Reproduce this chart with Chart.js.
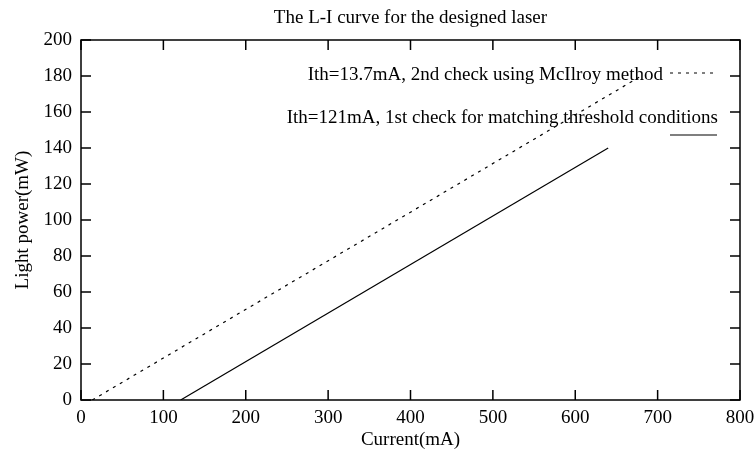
<!DOCTYPE html>
<html>
<head>
<meta charset="utf-8">
<title>L-I curve</title>
<script src="https://cdn.jsdelivr.net/npm/chart.js@4.4.1/dist/chart.umd.min.js"></script>
<style>
  html, body { margin: 0; padding: 0; background: #fff; }
  #wrap { width: 756px; height: 457px; position: relative; }
</style>
</head>
<body>
<div id="wrap"><canvas id="liChart"></canvas></div>
<script>
// L-I curve: two threshold estimates for the laser
const titleText = 'The L-I curve for the designed laser';
const xTitle = 'Current(mA)';
const yTitle = 'Light power(mW)';

const seriesLabels = [
    'Ith=13.7mA, 2nd check using McIlroy method',
    'Ith=121mA, 1st check for matching threshold conditions'
];

const mcIlroyCurrent = [13.7, 680];
const mcIlroyPower = [0, 180];

const matchCurrent = [121, 640];
const matchPower = [0, 140];

const xRange = [0, 800, 100];
const yRange = [0, 200, 20];

const FONT = '"Liberation Serif", "Times New Roman", serif';
const FONT_SIZE = 19;

function toPoints(xs, ys) {
    return xs.map((x, i) => ({ x: x, y: ys[i] }));
}

// frame with inward ticks on all four sides, title and key
const framePlugin = {
    id: 'frame',
    afterDraw(chart) {
        const ctx = chart.ctx;
        const area = chart.chartArea;
        const xs = chart.scales.x;
        const ys = chart.scales.y;
        const tick = 10;

        ctx.save();
        ctx.strokeStyle = '#000';
        ctx.lineWidth = 1.5;
        ctx.strokeRect(area.left, area.top, area.right - area.left, area.bottom - area.top);

        ctx.beginPath();
        xs.ticks.forEach(t => {
            const px = xs.getPixelForValue(t.value);
            ctx.moveTo(px, area.bottom);
            ctx.lineTo(px, area.bottom - tick);
            ctx.moveTo(px, area.top);
            ctx.lineTo(px, area.top + tick);
        });
        ys.ticks.forEach(t => {
            const py = ys.getPixelForValue(t.value);
            ctx.moveTo(area.left, py);
            ctx.lineTo(area.left + tick, py);
            ctx.moveTo(area.right, py);
            ctx.lineTo(area.right - tick, py);
        });
        ctx.stroke();

        // title
        ctx.fillStyle = '#000';
        ctx.font = FONT_SIZE + 'px ' + FONT;
        ctx.textAlign = 'center';
        ctx.textBaseline = 'middle';
        ctx.fillText(titleText, (area.left + area.right) / 2, 18);

        // key
        const keyRows = [
            { textRight: area.right - 77, textY: 75, lineY: 73, dash: [3, 5] },
            { textRight: area.right - 22, textY: 118, lineY: 135, dash: [] }
        ];
        keyRows.forEach((row, i) => {
            ctx.textAlign = 'right';
            ctx.fillText(seriesLabels[i], row.textRight, row.textY);
            ctx.beginPath();
            ctx.lineWidth = 1.2;
            ctx.setLineDash(row.dash);
            ctx.moveTo(area.right - 70, row.lineY);
            ctx.lineTo(area.right - 23, row.lineY);
            ctx.stroke();
        });
        ctx.restore();
    }
};

const ctx = document.getElementById('liChart').getContext('2d');
new Chart(ctx, {
    type: 'line',
    data: {
        datasets: [
            {
                label: seriesLabels[0],
                data: toPoints(mcIlroyCurrent, mcIlroyPower),
                borderColor: '#000',
                borderWidth: 1.2,
                borderDash: [3, 5],
                pointRadius: 0,
                fill: false,
                tension: 0
            },
            {
                label: seriesLabels[1],
                data: toPoints(matchCurrent, matchPower),
                borderColor: '#000',
                borderWidth: 1.2,
                pointRadius: 0,
                fill: false,
                tension: 0
            }
        ]
    },
    options: {
        responsive: true,
        maintainAspectRatio: false,
        animation: false,
        layout: { padding: { top: 40, right: 16, left: 0, bottom: 0 } },
        plugins: {
            legend: { display: false },
            title: { display: false },
            tooltip: { enabled: false }
        },
        scales: {
            x: {
                type: 'linear',
                min: xRange[0],
                max: xRange[1],
                grid: { display: false, drawTicks: false },
                border: { display: false },
                ticks: {
                    stepSize: xRange[2],
                    color: '#000',
                    padding: 7,
                    maxRotation: 0,
                    font: { family: FONT, size: FONT_SIZE }
                },
                title: {
                    display: true,
                    text: xTitle,
                    color: '#000',
                    padding: { top: 6, bottom: 6 },
                    font: { family: FONT, size: FONT_SIZE }
                },
                afterFit(scale) {
                    scale.height = 57;
                    scale.paddingLeft = 0;
                    scale.paddingRight = 0;
                }
            },
            y: {
                min: yRange[0],
                max: yRange[1],
                grid: { display: false, drawTicks: false },
                border: { display: false },
                ticks: {
                    stepSize: yRange[2],
                    color: '#000',
                    padding: 9,
                    font: { family: FONT, size: FONT_SIZE }
                },
                title: {
                    display: true,
                    text: yTitle,
                    color: '#000',
                    padding: { top: 12, bottom: 12 },
                    font: { family: FONT, size: FONT_SIZE }
                },
                afterFit(scale) {
                    scale.width = 81;
                    scale.paddingTop = 0;
                    scale.paddingBottom = 0;
                }
            }
        }
    },
    plugins: [framePlugin]
});
</script>
</body>
</html>
